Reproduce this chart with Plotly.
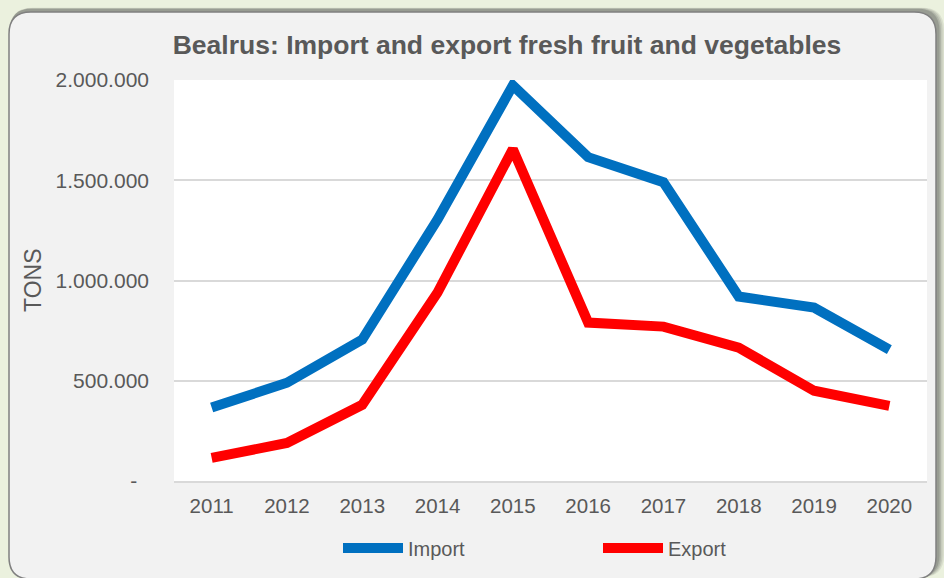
import plotly.graph_objects as go

years = ["2011", "2012", "2013", "2014", "2015", "2016", "2017", "2018", "2019", "2020"]
import_tons = [367000, 490000, 705000, 1305000, 1973000, 1615000, 1490000, 920000, 865000, 655000]
export_tons = [115000, 190000, 380000, 940000, 1655000, 790000, 770000, 665000, 450000, 375000]
y_tickvals = [0, 500000, 1000000, 1500000, 2000000]
y_ticktext = ["-\u00a0\u00a0", "500.000", "1.000.000", "1.500.000", "2.000.000"]

W, H = 944, 578
L, R, T, B = 174, 17, 80, 97
PW, PH = W - L - R, H - T - B


def px2paper(x, y):
    return (x - L) / PW, (H - B - y) / PH


def rounded_rect(x0, y0, x1, y1, r):
    def p(x, y):
        fx, fy = px2paper(x, y)
        return f"{fx:.5f},{fy:.5f}"
    return (
        f"M {p(x0 + r, y0)} L {p(x1 - r, y0)} "
        f"Q {p(x1, y0)} {p(x1, y0 + r)} L {p(x1, y1 - r)} "
        f"Q {p(x1, y1)} {p(x1 - r, y1)} L {p(x0 + r, y1)} "
        f"Q {p(x0, y1)} {p(x0, y1 - r)} L {p(x0, y0 + r)} "
        f"Q {p(x0, y0)} {p(x0 + r, y0)} Z"
    )


fig = go.Figure()
fig.add_trace(go.Scatter(x=years, y=import_tons, mode="lines", name="Import",
                         line=dict(color="#0070C0", width=10)))
fig.add_trace(go.Scatter(x=years, y=export_tons, mode="lines", name="Export",
                         line=dict(color="#FF0000", width=10)))

shapes = []
# shadow layers
for i, op in enumerate([0.10, 0.12, 0.15, 0.2]):
    d = 6 - i * 1.5
    shapes.append(dict(type="path", xref="paper", yref="paper", layer="below",
                       path=rounded_rect(9 + d * 0.3, 9 - d * 0.2, 938 + d, 577, 22),
                       fillcolor=f"rgba(60,60,60,{op})", line=dict(width=0)))
# panel
shapes.append(dict(type="path", xref="paper", yref="paper", layer="below",
                   path=rounded_rect(9, 12, 936, 579, 22),
                   fillcolor="#F2F2F2", line=dict(color="#808080", width=1.5)))
# plot area
shapes.append(dict(type="rect", xref="paper", yref="paper", layer="below",
                   x0=0, x1=1, y0=0, y1=1, fillcolor="#FFFFFF", line=dict(width=0)))

fig.update_layout(
    width=W, height=H,
    margin=dict(l=L, r=R, t=T, b=B, autoexpand=False),
    paper_bgcolor="#EBF1DE",
    plot_bgcolor="#FFFFFF",
    font=dict(family="Liberation Sans, Arial, sans-serif", color="#595959", size=20),
    title=dict(text="<b>Bealrus: Import and export fresh fruit and vegetables</b>",
               x=507 / W, xanchor="center", y=1 - 45 / H, yanchor="middle",
               font=dict(size=26.5, color="#595959")),
    shapes=shapes,
    showlegend=True,
    legend=dict(orientation="h", x=(598 - L) / PW, xanchor="center",
                y=(H - B - 548) / PH, yanchor="middle",
                bgcolor="rgba(0,0,0,0)", font=dict(size=20, color="#595959"),
                itemwidth=60, traceorder="normal", entrywidth=185),
    annotations=[dict(text="TONS", textangle=-90, xref="paper", yref="paper",
                      x=(33 - L) / PW, y=(H - B - 281) / PH, showarrow=False,
                      xanchor="center", yanchor="middle",
                      font=dict(size=23, color="#595959"))],
)
fig.update_xaxes(type="category", range=[-0.5, 9.5], showgrid=False, showline=True,
                 linecolor="#D9D9D9", linewidth=1.5, ticks="", ticklabelstandoff=6,
                 tickfont=dict(size=20.5, color="#595959"))
fig.update_yaxes(range=[0, 2000000], tickvals=y_tickvals, ticktext=y_ticktext,
                 showgrid=True, gridcolor="#D9D9D9", gridwidth=1.5, zeroline=False,
                 showline=False, ticks="", ticklabelstandoff=24,
                 tickfont=dict(size=21, color="#595959"))

fig.write_html("out.html", config={"displayModeBar": False},
               post_script="document.body.style.margin='0';")
